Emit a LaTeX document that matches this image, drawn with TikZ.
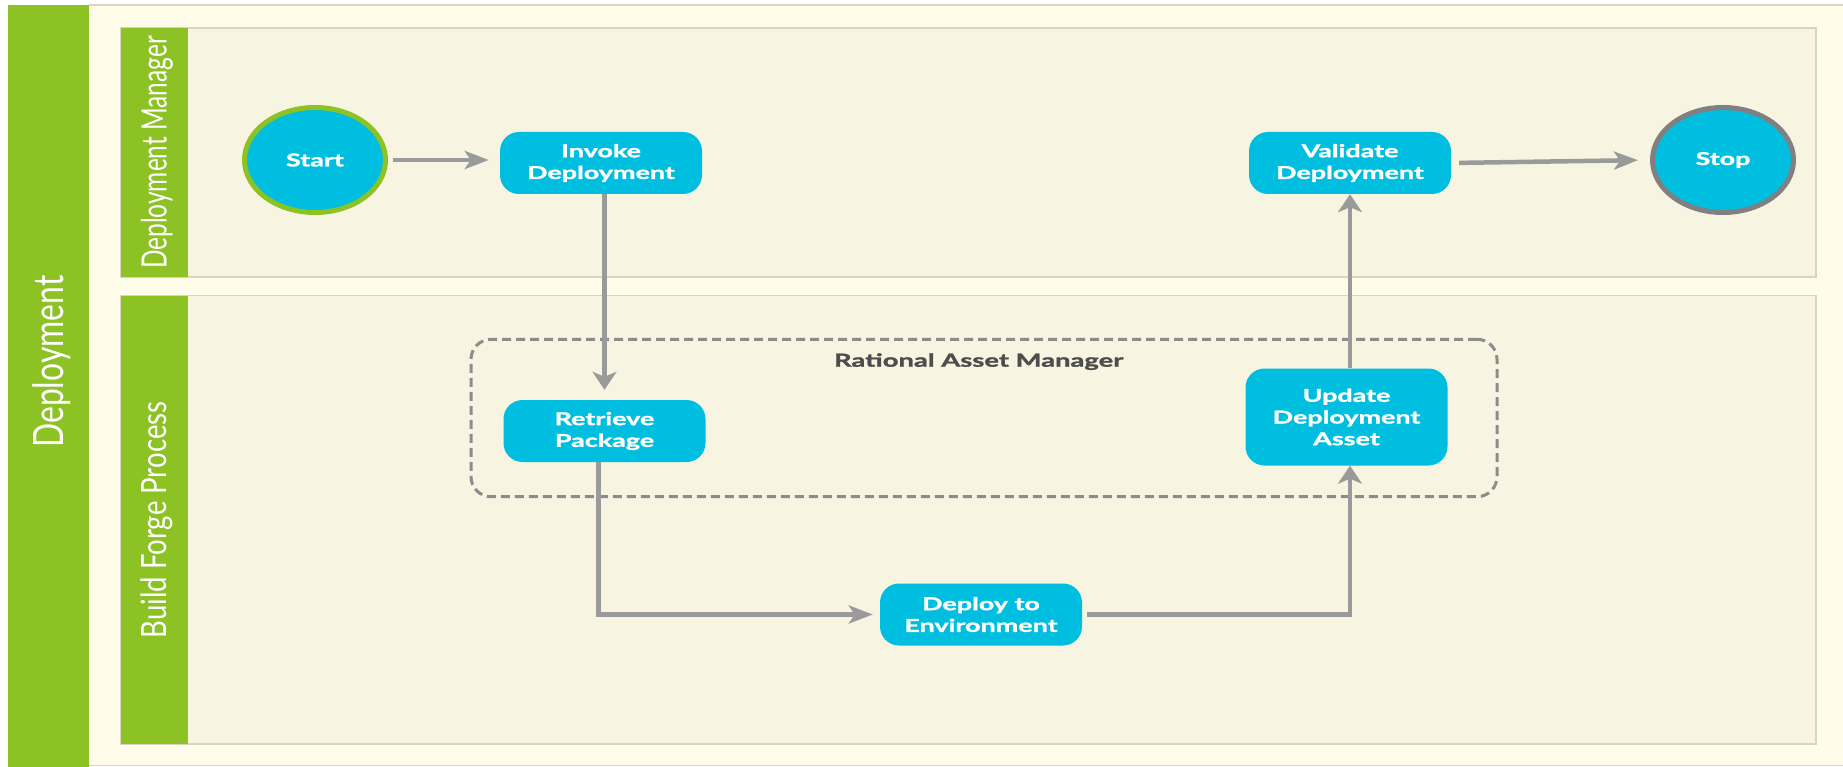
\documentclass[tikz,border=0pt]{standalone}
\usepackage{fontspec}
\usetikzlibrary{shapes.geometric,arrows.meta,calc}
\newfontfamily\nodefont[FakeStretch=1.52,BoldFeatures={FakeBold=1.6}]{Lato}
\newfontfamily\outerfont[FakeStretch=0.76]{Lato}
\newfontfamily\lanefontA[FakeStretch=0.70]{Lato}
\newfontfamily\lanefontB[FakeStretch=0.79]{Lato}
\definecolor{lanegreen}{HTML}{8CC224}
\definecolor{creambg}{HTML}{FFFDE9}
\definecolor{lanebg}{HTML}{F7F4E2}
\definecolor{laneline}{HTML}{DCD5BD}
\definecolor{nodecyan}{HTML}{00BEE0}
\definecolor{arrowgray}{HTML}{9A9A9A}
\definecolor{dashgray}{HTML}{8C8C8C}
\definecolor{stopgray}{HTML}{808080}
\definecolor{titlegray}{HTML}{4D4D4D}
\begin{document}
\begin{tikzpicture}[x=1pt,y=-1pt,
  nodetext/.style={text=white, font=\nodefont\bfseries\fontsize{17.7}{21.7}\selectfont},
  proc/.style={nodetext, fill=nodecyan, rounded corners=19pt, minimum width=202pt, minimum height=62pt, inner sep=0pt, align=center},
  term/.style={nodetext, ellipse, fill=nodecyan, line width=5pt, minimum width=141pt, minimum height=105pt, inner sep=0pt},
  flow/.style={draw=arrowgray, line width=4.5pt},
  harr/.style={flow, -{Stealth[length=24pt,width=18pt,inset=6pt]}},
  varr/.style={flow, -{Stealth[length=18pt,width=24pt,inset=5pt]}},
  lanetitle/.style={rotate=90, anchor=base, inner sep=0pt, text=white},
  lanebox/.style={fill=lanebg, draw=laneline, line width=1.5pt},
]
\useasboundingbox (0,0) rectangle (1843,767);
\fill[white] (0,0) rectangle (1843,767);
% outer pool
\fill[creambg] (89,5) rectangle (1843,766);
\draw[laneline, line width=1.2pt] (89,5) -- (1843,5);
\draw[laneline, line width=1.2pt] (89,765.5) -- (1843,765.5);
\fill[lanegreen] (8,5) rectangle (89,767);
% lanes
\filldraw[lanebox] (120.5,28) rectangle (1816,277);
\fill[lanegreen] (120.5,28) rectangle (188,277);
\filldraw[lanebox] (120.5,295.5) rectangle (1816,744);
\fill[lanegreen] (120.5,295.5) rectangle (188,744);
% titles
\node[lanetitle, font=\outerfont\fontsize{41.9}{44}\selectfont] (tdep) at (63.3,361.7) {Deployment};
\node[lanetitle, font=\lanefontA\fontsize{34.9}{38}\selectfont] (tdm) at (166.7,152.5) {Deployment Manager};
\node[lanetitle, font=\lanefontB\fontsize{34.9}{38}\selectfont] (tbf) at (166.7,520) {Build Forge Process};
% group box
\node[draw=dashgray, line width=3pt, dash pattern=on 9pt off 5pt, rounded corners=20pt,
      minimum width=1026pt, minimum height=157.4pt, inner sep=0pt] (ram) at (984,418) {};
\node[anchor=base, inner sep=0pt, text=titlegray, font=\nodefont\bfseries\fontsize{18}{20}\selectfont] (ramtitle) at (978.7,366.7) {Rational Asset Manager};
% nodes
\node[term, draw=lanegreen] (start) at (315,160) {Start};
\node[proc] (inv) at (601,163) {Invoke\\Deployment};
\node[proc] (val) at (1350,163) {Validate\\Deployment};
\node[term, draw=stopgray] (stop) at (1723,160) {Stop};
\node[proc] (ret) at (604.5,431) {Retrieve\\Package};
\node[proc] (dep) at (981,614.5) {Deploy to\\Environment};
\node[proc, minimum height=97pt] (upd) at (1346.5,417) {Update\\Deployment\\Asset};
% connectors
\draw[harr, shorten <=5pt, shorten >=11pt] (start.east) -- (start.east -| inv.west);
\draw[varr, shorten >=10pt] (ret.north |- inv.south) -- (ret.north);
\draw[harr, shorten >=7pt] ([xshift=-6pt]ret.south) |- (dep.west);
\draw[varr, shorten <=5pt] (dep.east) -| (val.south |- upd.south);
\draw[varr] (val.south |- upd.north) -- (val.south);
\draw[harr, shorten <=8pt, shorten >=12pt] (val.east) -- (stop.west);
\end{tikzpicture}
\end{document}
